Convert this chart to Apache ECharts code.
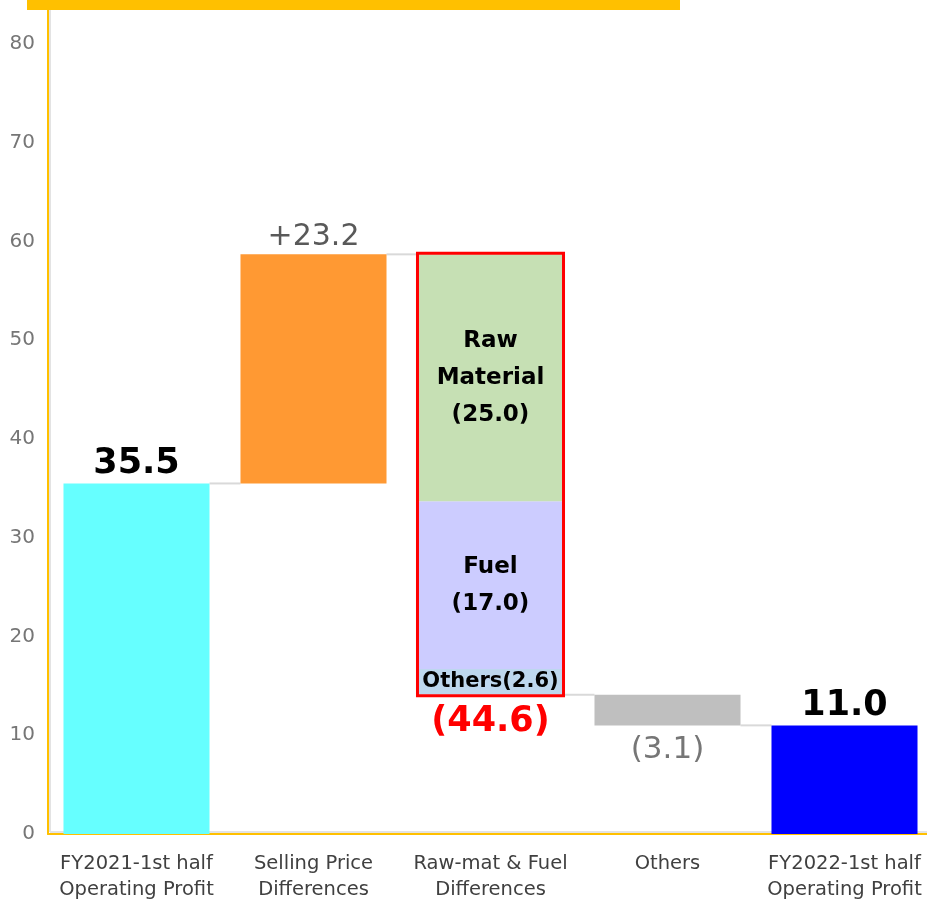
<!DOCTYPE html>
<html>
<head>
<meta charset="utf-8">
<script src="https://cdn.jsdelivr.net/npm/echarts@6/dist/echarts.min.js"></script>
<style>
html,body{margin:0;padding:0;background:#fff;}
#chart{width:927px;height:900px;}
</style>
</head>
<body>
<div id="chart"></div>
<script>
const categories = ['FY2021-1st half\nOperating Profit', 'Selling Price\nDifferences', 'Raw-mat & Fuel\nDifferences', 'Others', 'FY2022-1st half\nOperating Profit'];
const changes = [35.5, 23.2, -44.6, -3.1, 11.0];
const changeLabels = ['35.5', '+23.2', '(44.6)', '(3.1)', '11.0'];
const isTotal = [true, false, false, false, true];
const breakdownNames = ['Others', 'Fuel', 'Raw Material'];
const breakdownValues = [2.6, 17.0, 25.0];
const breakdownLabels = ['Others(2.6)', 'Fuel\n(17.0)', 'Raw\nMaterial\n(25.0)'];
const yTicks = [0, 10, 20, 30, 40, 50, 60, 70, 80];

const barColors = ['#66FFFF', '#FF9933', '#FFFFFF', '#BFBFBF', '#0000FF'];
const breakdownColors = ['#BDD7EE', '#CCCCFF', '#C6E0B4'];
const breakdownIndex = 2;
const FONT = 'DejaVu Sans';

// compute waterfall bases and heights
const bases = [], heights = [], levels = [];
let level = 0;
changes.forEach((c, i) => {
  if (isTotal[i]) { bases.push(0); heights.push(Math.abs(c)); level = c; }
  else if (c >= 0) { bases.push(level); heights.push(c); level = +(level + c).toFixed(2); }
  else { level = +(level + c).toFixed(2); bases.push(level); heights.push(-c); }
  levels.push(level);
});
const tops = bases.map((b, i) => +(b + heights[i]).toFixed(2));

const labelStyles = [
  {position: 'top', fontSize: 35, fontWeight: 'bold', color: '#000', distance: 2},
  {position: 'top', fontSize: 30, fontWeight: 'normal', color: '#595959', distance: 2},
  null,
  {position: 'bottom', fontSize: 31, fontWeight: 'normal', color: '#767676', distance: 9},
  {position: 'top', fontSize: 35, fontWeight: 'bold', color: '#000', distance: 2}
];

const mainData = heights.map((h, i) => {
  if (i === breakdownIndex) return {value: 0, itemStyle: {color: 'transparent'}, label: {show: false}};
  const ls = labelStyles[i];
  return {
    value: h,
    itemStyle: {color: barColors[i]},
    label: {show: true, formatter: changeLabels[i], position: ls.position, fontSize: ls.fontSize,
            fontWeight: ls.fontWeight, color: ls.color, distance: ls.distance, fontFamily: FONT}
  };
});

const baseData = bases.map((b, i) => {
  if (i === breakdownIndex) {
    return {value: b, label: {show: true, position: 'insideTop', distance: 10, formatter: changeLabels[i],
      fontSize: 35, fontWeight: 'bold', color: '#FF0000', fontFamily: FONT}};
  }
  return {value: b, label: {show: false}};
});

const BAR_RATIO = 0.825;
const BAR_W = (BAR_RATIO * 100) + '%';
const series = [
  {name: 'base', type: 'bar', stack: 'w', barWidth: BAR_W, data: baseData,
   itemStyle: {color: 'transparent'}, silent: true},
  {name: 'main', type: 'bar', stack: 'w', barWidth: BAR_W, data: mainData}
];
breakdownValues.forEach((v, k) => {
  series.push({
    name: breakdownNames[k], type: 'bar', stack: 'w', barWidth: BAR_W,
    data: categories.map((_, i) => i === breakdownIndex ? v : 0),
    itemStyle: {color: breakdownColors[k]},
    label: {show: true, position: 'inside', formatter: p => p.dataIndex === breakdownIndex ? breakdownLabels[k] : '',
      fontSize: k === 0 ? 21 : 23, fontWeight: 'bold', color: '#000', lineHeight: k === 0 ? 22 : 37, fontFamily: FONT}
  });
});

// connectors between bars
const connData = [];
for (let i = 0; i < categories.length - 1; i++) {
  connData.push([i, levels[i]]);
}
series.push({
  type: 'custom', name: 'connectors', silent: true, z: 1,
  data: connData,
  renderItem: (params, api) => {
    const i = api.value(0), v = api.value(1);
    const p1 = api.coord([i, v]);
    const p2 = api.coord([i + 1, v]);
    const bw = api.size([1, 0])[0] * BAR_RATIO / 2;
    return {type: 'line', shape: {x1: p1[0] + bw, y1: p1[1], x2: p2[0] - bw, y2: p2[1]},
            style: {stroke: '#D9D9D9', lineWidth: 2}};
  }
});

// red outline around breakdown bar
series.push({
  type: 'custom', name: 'outline', silent: true, z: 5,
  data: [[breakdownIndex, bases[breakdownIndex], tops[breakdownIndex]]],
  renderItem: (params, api) => {
    const i = api.value(0);
    const pLow = api.coord([i, api.value(1)]);
    const pHigh = api.coord([i, api.value(2)]);
    const bw = api.size([1, 0])[0] * BAR_RATIO;
    return {type: 'rect', shape: {x: pLow[0] - bw / 2, y: pHigh[1] - 1, width: bw, height: pLow[1] - pHigh[1] + 2},
            style: {fill: null, stroke: '#FF0000', lineWidth: 3}};
  }
});

const chart = echarts.init(document.getElementById('chart'));
chart.setOption({
  animation: false,
  backgroundColor: '#fff',
  grid: {left: 48, width: 885, top: 44, bottom: 66, outerBoundsMode: 'none', containLabel: false},
  xAxis: {
    type: 'category', data: categories,
    axisLine: {lineStyle: {color: '#FFC000', width: 2}},
    axisTick: {show: false},
    axisLabel: {color: '#404040', fontSize: 19.5, fontFamily: FONT, lineHeight: 26, margin: 17, interval: 0}
  },
  yAxis: {
    type: 'value', min: yTicks[0], max: yTicks[yTicks.length - 1], interval: 10,
    axisLine: {show: true, lineStyle: {color: '#FFC000', width: 2}},
    axisTick: {show: false},
    splitLine: {show: false},
    axisLabel: {color: '#767676', fontSize: 20, fontFamily: FONT, margin: 13}
  },
  graphic: [
    {type: 'rect', shape: {x: 27, y: 0, width: 653, height: 10}, style: {fill: '#FFC000'}, z: 10},
    {type: 'line', shape: {x1: 48, y1: 10, x2: 48, y2: 45}, style: {stroke: '#FFC000', lineWidth: 2}, z: 10},
    {type: 'line', shape: {x1: 50, y1: 10, x2: 50, y2: 832}, style: {stroke: '#E3E3E3', lineWidth: 2}, z: 0},
    {type: 'line', shape: {x1: 50, y1: 832, x2: 927, y2: 832}, style: {stroke: '#E3E3E3', lineWidth: 2}, z: 0}
  ],
  series: series
});
</script>
</body>
</html>
